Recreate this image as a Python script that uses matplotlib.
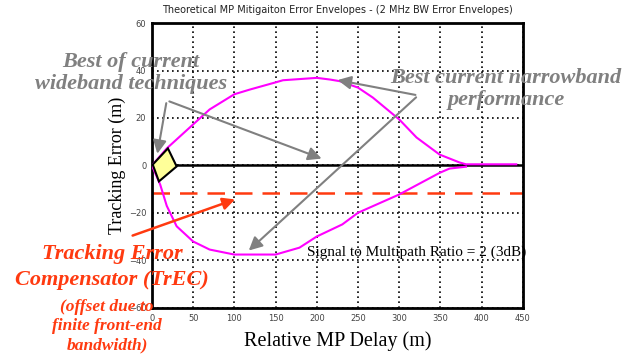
import numpy as np
import matplotlib.pyplot as plt
from matplotlib.patches import Polygon

# upper / lower multipath error envelopes
up_x = [0, 18, 50, 70, 100, 119, 150, 159, 200, 216, 228, 250, 268, 300, 321, 349, 373, 381, 442]
up_y = [0, 7.2, 17.3, 23.6, 30, 32, 35, 35.9, 36.9, 36.2, 35.5, 32.8, 28.6, 19.4, 11.8, 4.6, 1.3, 0.5, 0.5]
lo_x = [0, 10, 18, 30, 50, 70, 100, 150, 179, 200, 231, 250, 300, 349, 361, 381]
lo_y = [0, -8, -17, -25.6, -32, -35.4, -37.5, -37.5, -34.6, -29.9, -24.8, -19.9, -12.2, -3.1, -1.3, -0.5]

trec_offset = -11.5
diamond_x = [1, 19.4, 30, 8.5]
diamond_y = [0.4, 7.2, -0.4, -6.7]

x_ticks = np.arange(0, 451, 50)
y_ticks = np.arange(-60, 61, 20)

serif = ['Liberation Serif', 'DejaVu Serif']
gray = '#808080'
red = '#ff3a10'

fig = plt.figure(figsize=(6.33, 3.54), dpi=100)
ax = fig.add_axes([0.240, 0.130, 0.586, 0.805])

ax.plot(up_x, up_y, color='#ff00ff', lw=1.5, zorder=3)
ax.plot(lo_x, lo_y, color='#ff00ff', lw=1.5, zorder=3)
ax.axhline(0, color='black', lw=1.8, zorder=2)
ax.axhline(trec_offset, color=red, lw=1.8, dashes=(7, 4), zorder=2)
ax.add_patch(Polygon(list(zip(diamond_x, diamond_y)), closed=True,
                     facecolor='#ffff99', edgecolor='black', lw=1.5, zorder=4))

ax.set_xlim(0, 450)
ax.set_ylim(-60, 60)
ax.set_xticks(x_ticks)
ax.set_yticks(y_ticks)
ax.grid(True, color='black', ls=(0, (1, 2)), lw=1.2)
ax.tick_params(length=0, labelsize=6, labelcolor='#444444', pad=4)
for s in ax.spines.values():
    s.set_linewidth(2)

ax.set_title('Theoretical MP Mitigaiton Error Envelopes - (2 MHz BW Error Envelopes)',
             fontsize=7, color='#222222', pad=7)
ax.set_xlabel('Relative MP Delay (m)', family=serif, fontsize=14.5, labelpad=6)
ax.set_ylabel('Tracking Error (m)', family=serif, fontsize=13, labelpad=2)

ax.text(321, -36.6, 'Signal to Multipath Ratio = 2 (3dB)', family=serif,
        fontsize=11, ha='center', va='center')

# annotation arrows
arr = dict(arrowstyle='-|>', color=gray, lw=1.5, mutation_scale=20)
ax.annotate('', xy=(6, 3.8), xytext=(18, 27.4), arrowprops=arr, zorder=5)
ax.annotate('', xy=(209, 2.5), xytext=(18, 27.4), arrowprops=arr, zorder=5)
ax.annotate('', xy=(222, 36.2), xytext=(323, 29.5), arrowprops=arr, zorder=5)
ax.annotate('', xy=(115, -36.6), xytext=(323, 29.5), arrowprops=arr, zorder=5)
ax.annotate('', xy=(104, -13.9), xytext=(-26.6, -29.9),
            arrowprops=dict(arrowstyle='-|>', color=red, lw=1.8, mutation_scale=18),
            annotation_clip=False, zorder=5)

fig.text(131 / 633, 1 - 73 / 354, 'Best of current\nwideband techniques', family=serif,
         fontsize=16, weight='bold', style='italic', color=gray, ha='center', va='center',
         linespacing=1.2)
fig.text(506 / 633, 1 - 89 / 354, 'Best current narrowband\nperformance', family=serif,
         fontsize=16, weight='bold', style='italic', color=gray, ha='center', va='center',
         linespacing=1.15)
fig.text(112 / 633, 1 - 267 / 354, 'Tracking Error\nCompensator (TrEC)', family=serif,
         fontsize=16, weight='bold', style='italic', color=red, ha='center', va='center',
         linespacing=1.35)
fig.text(107 / 633, 1 - 326 / 354, '(offset due to\nfinite front-end\nbandwidth)', family=serif,
         fontsize=12.5, weight='bold', style='italic', color=red, ha='center', va='center',
         linespacing=1.25)

fig.savefig('out.png', dpi=100)
